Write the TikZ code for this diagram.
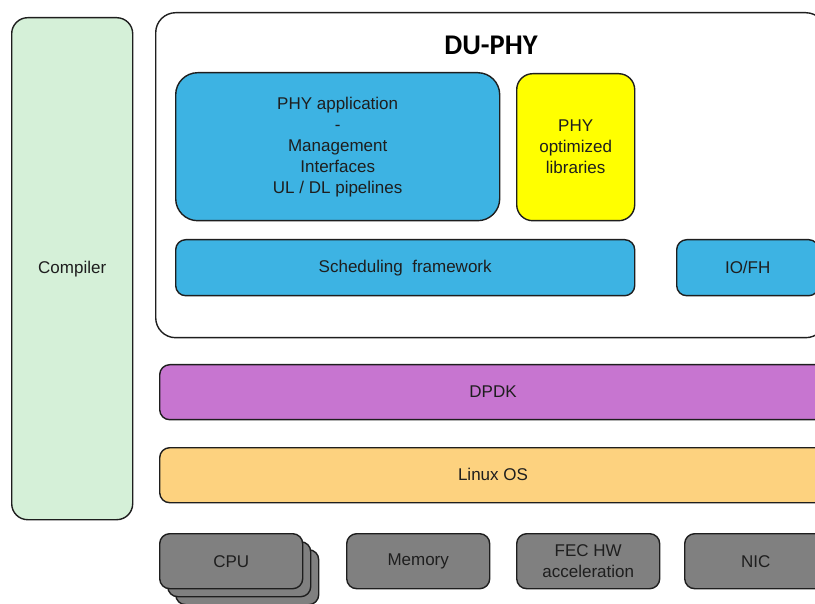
\documentclass[tikz,border=0pt]{standalone}
\usepackage{fontspec}
\setmainfont{Liberation Sans}
\newfontfamily\titlefont{Carlito}
\definecolor{edge}{HTML}{1E1E1E}
\definecolor{compgreen}{HTML}{D5F0D8}
\definecolor{phyblue}{HTML}{3DB3E3}
\definecolor{phyyellow}{HTML}{FFFF00}
\definecolor{dpdkpurple}{HTML}{C775D0}
\definecolor{linuxorange}{HTML}{FDD27F}
\definecolor{hwgrey}{HTML}{808080}
\begin{document}
\begin{tikzpicture}[x=1pt,y=-1pt,
  blk/.style={draw=edge, line width=1.4pt, rounded corners=10pt, anchor=north west,
    inner sep=0pt, align=center, text=edge, font=\fontsize{17}{21}\selectfont},
  lbl/.style={text=edge, font=\fontsize{17}{21}\selectfont},
  hw/.style={blk, fill=hwgrey, minimum width=143pt, minimum height=55pt}]
\clip (0,0) rectangle (815,604);
% Compiler
\node[blk, fill=compgreen, rounded corners=16pt, minimum width=121pt, minimum height=502pt] (comp) at (11,17) {Compiler};
% DU-PHY container
\node[blk, fill=white, rounded corners=20pt, minimum width=670pt, minimum height=325pt] (du) at (155,12) {};
\node[font=\titlefont\bfseries\fontsize{28.5}{30}\selectfont, text=black] (title) at (491,45) {DU-PHY};
% PHY application
\node[blk, fill=phyblue, rounded corners=22pt, minimum width=324pt, minimum height=148pt] (app) at (175,72)
  {PHY application\\-\\Management\\Interfaces\\UL / DL pipelines};
\node[blk, fill=phyyellow, rounded corners=16pt, minimum width=118pt, minimum height=147pt] (lib) at (516,73)
  {PHY\\optimized\\libraries};
\node[blk, fill=phyblue, minimum width=459pt, minimum height=56pt] (sched) at (175,239) {Scheduling\ \ framework};
\node[blk, fill=phyblue, minimum width=142pt, minimum height=56pt] (io) at (676,239) {IO/FH};
% DPDK & Linux
\node[blk, fill=dpdkpurple, minimum width=670pt, minimum height=55pt] (dpdk) at (159,364) {};
\node[lbl] (dpdklbl) at (493,391.5) {DPDK};
\node[blk, fill=linuxorange, minimum width=670pt, minimum height=55pt] (linux) at (159,447) {};
\node[lbl] (linuxlbl) at (493,474.5) {Linux OS};
% Hardware
\node[hw] (cpu3) at (175,549) {};
\node[hw] (cpu2) at (167,541) {};
\node[hw] (cpu) at (159,533) {CPU};
\node[hw] (mem) at (346,533) {Memory};
\node[hw] (fec) at (516,533) {FEC HW\\acceleration};
\node[hw, minimum width=142pt] (nic) at (684,533) {NIC};
\end{tikzpicture}
\end{document}
